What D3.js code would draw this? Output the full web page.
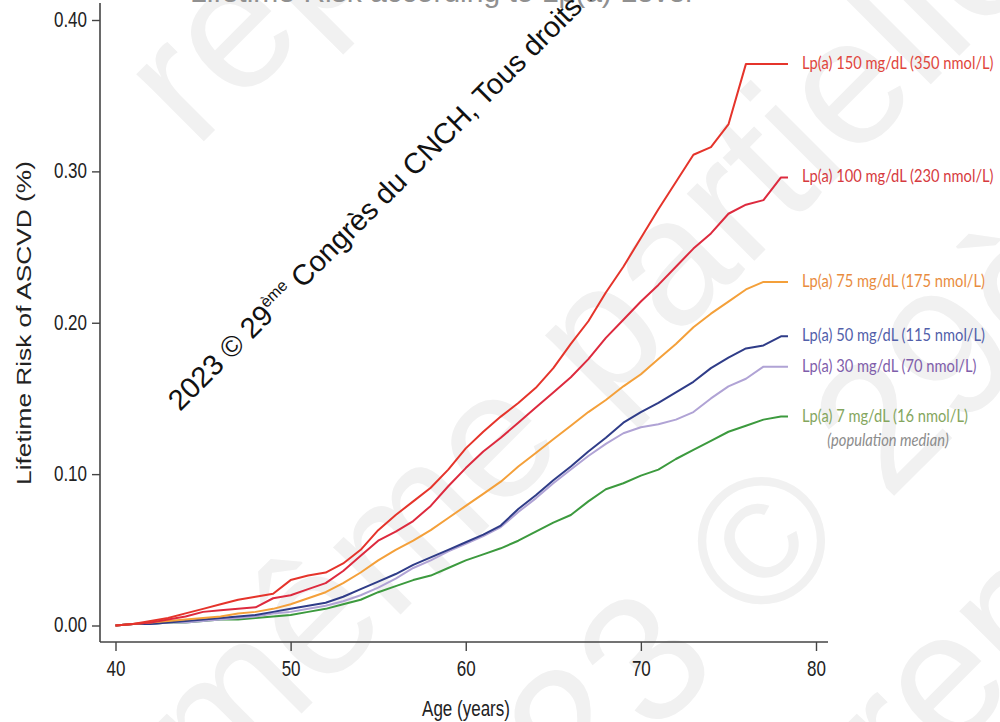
<!DOCTYPE html>
<html>
<head>
<meta charset="utf-8">
<script src="https://cdn.jsdelivr.net/npm/d3@7"></script>
<style>
  body { margin: 0; background: #fff; }
  svg { display: block; }
</style>
</head>
<body>
<div id="chart"></div>
<script>
// ages (years) shared by every curve
const ages = [40,41,42,43,44,45,46,47,48,49,50,51,52,53,54,55,56,57,58,59,
              60,61,62,63,64,65,66,67,68,69,70,71,72,73,74,75,76,77,78,78.4];

// lifetime risk, one value per age
const risk150 = [0,.001,.003,.005,.008,.011,.014,.017,.019,.021,.030,.033,.035,.041,.050,.063,.073,.082,.091,.103,
                 .117,.128,.138,.147,.157,.170,.186,.201,.220,.237,.256,.275,.293,.311,.316,.331,.371,.371,.371,.371];
const risk100 = [0,.001,.002,.004,.006,.009,.010,.011,.012,.018,.020,.024,.028,.036,.046,.056,.062,.069,.079,.092,
                 .104,.115,.124,.134,.144,.154,.164,.176,.190,.202,.214,.225,.237,.249,.259,.272,.278,.281,.296,.296];
const risk75  = [0,.001,.002,.003,.004,.005,.006,.008,.009,.011,.014,.018,.022,.028,.035,.043,.050,.056,.063,.071,
                 .079,.087,.095,.105,.114,.123,.132,.141,.149,.158,.166,.176,.186,.197,.206,.214,.222,.227,.227,.227];
const risk50  = [0,.001,.001,.002,.003,.004,.005,.006,.007,.009,.011,.013,.015,.019,.024,.029,.034,.040,.045,.050,
                 .055,.060,.066,.077,.086,.096,.105,.115,.124,.134,.141,.147,.154,.161,.170,.177,.183,.185,.191,.191];
const risk30  = [0,.001,.001,.002,.002,.003,.004,.005,.006,.008,.009,.011,.013,.016,.020,.025,.031,.038,.043,.049,
                 .054,.059,.065,.075,.084,.094,.103,.112,.120,.127,.131,.133,.136,.141,.150,.158,.163,.171,.171,.171];
const risk7   = [0,.001,.001,.002,.002,.003,.004,.004,.005,.006,.007,.009,.011,.014,.017,.022,.026,.030,.033,.038,
                 .043,.047,.051,.056,.062,.068,.073,.082,.090,.094,.099,.103,.110,.116,.122,.128,.132,.136,.138,.138];

const seriesLabels = ["Lp(a) 150 mg/dL (350 nmol/L)","Lp(a) 100 mg/dL (230 nmol/L)","Lp(a) 75 mg/dL (175 nmol/L)",
                      "Lp(a) 50 mg/dL (115 nmol/L)","Lp(a) 30 mg/dL (70 nmol/L)","Lp(a) 7 mg/dL (16 nmol/L)"];
const xTicks = [40,50,60,70,80];
const yTicks = [0,0.1,0.2,0.3,0.4];

const lineColors  = ["#e5342b","#dd2a3e","#f4a03a","#2f3c88","#b0a3d5","#3c9a3e"];
const labelColors = ["#e0453c","#d63a40","#e98c3e","#5260aa","#7f5eab","#84a65e"];

const width = 1000, height = 722;
const svg = d3.select("#chart").append("svg")
    .attr("width", width)
    .attr("height", height)
    .style("font-family", "'Liberation Sans', Arial, sans-serif");

const x = d3.scaleLinear().domain([40, 80]).range([115.5, 816]);
const y = d3.scaleLinear().domain([0, 0.4]).range([625.5, 20]);

// faint background watermark
const wm = svg.append("g")
    .attr("fill", "#f1f1f1")
    .style("font-size", "180px");
[["reproduction", 195, 150], ["même partielle", 215, 800], ["2023 © 29ème", 440, 950], ["reproduction", 905, 800]]
  .forEach(function(w) {
    wm.append("text")
      .attr("transform", `translate(${w[1]},${w[2]}) rotate(-45)`)
      .text(w[0]);
  });

// cut-off title at the top
svg.append("text")
    .attr("x", 190).attr("y", 2)
    .attr("fill", "#909090")
    .style("font-size", "30px")
    .text("Lifetime Risk according to Lp(a) Level");

// axes
const yAxis = svg.append("g")
    .attr("transform", "translate(100,0)")
    .call(d3.axisLeft(y).tickValues(yTicks).tickFormat(d3.format(".2f")).tickSize(8).tickPadding(5));
yAxis.select(".domain").remove();
yAxis.selectAll("line").attr("stroke", "#444").attr("stroke-width", 1.4);
yAxis.selectAll("text")
    .attr("fill", "#222")
    .style("font-size", "17px")
    .attr("dy", "0.3em")
    .attr("transform", "scale(1,1.25)");

const xAxis = svg.append("g")
    .attr("transform", "translate(0,642)")
    .call(d3.axisBottom(x).tickValues(xTicks).tickSize(9));
xAxis.select(".domain").remove();
xAxis.selectAll("line").attr("stroke", "#444").attr("stroke-width", 1.4);
xAxis.selectAll("text")
    .attr("fill", "#222")
    .style("font-size", "17px")
    .attr("y", 27.5)
    .attr("dy", 0)
    .attr("transform", "scale(1,1.25)");

svg.append("line")
    .attr("x1", 100).attr("x2", 100).attr("y1", 3).attr("y2", 642)
    .attr("stroke", "#444").attr("stroke-width", 1.6);
svg.append("line")
    .attr("x1", 100).attr("x2", 828).attr("y1", 642).attr("y2", 642)
    .attr("stroke", "#444").attr("stroke-width", 1.6);

svg.append("text")
    .attr("transform", "translate(31,323) scale(1,1.25) rotate(-90)")
    .attr("text-anchor", "middle")
    .attr("fill", "#222")
    .style("font-size", "21px")
    .text("Lifetime Risk of ASCVD (%)");

svg.append("text")
    .attr("transform", "translate(466,716) scale(1,1.25)")
    .attr("text-anchor", "middle")
    .attr("fill", "#222")
    .style("font-size", "17px")
    .text("Age (years)");

// curves
const allRisk = [risk150, risk100, risk75, risk50, risk30, risk7];
const line = d3.line()
    .x(function(d, i) { return x(ages[i]); })
    .y(function(d) { return y(d); });

// drawn bottom first so the reds sit on top
for (let k = allRisk.length - 1; k >= 0; k--) {
  svg.append("path")
    .attr("d", line(allRisk[k]))
    .attr("fill", "none")
    .attr("stroke", lineColors[k])
    .attr("stroke-width", 2)
    .attr("stroke-linejoin", "round");
}

// end labels
allRisk.forEach(function(r, k) {
  const yEnd = y(r[r.length - 1]);
  svg.append("text")
    .attr("transform", `translate(802,${yEnd + 5}) scale(1,1.2)`)
    .attr("fill", labelColors[k])
    .style("font-family", "Lato, 'Open Sans', sans-serif")
    .style("font-size", "14.7px")
    .text(seriesLabels[k]);
});
svg.append("text")
    .attr("transform", `translate(888,${y(risk7[risk7.length - 1]) + 29}) scale(1,1.2)`)
    .attr("text-anchor", "middle")
    .attr("fill", "#8c8c8c")
    .style("font-family", "Lato, 'Open Sans', sans-serif")
    .style("font-size", "14.7px")
    .style("font-style", "italic")
    .text("(population median)");

// copyright text over the chart
const cw = svg.append("text")
    .attr("transform", "translate(180,412) rotate(-45)")
    .attr("fill", "#111")
    .style("font-size", "29px");
cw.append("tspan").text("2023 © 29");
cw.append("tspan").attr("dy", -12).style("font-size", "16px").text("ème");
cw.append("tspan").attr("dy", 12).text(" Congrès du CNCH, Tous droits réservés");
</script>
</body>
</html>
